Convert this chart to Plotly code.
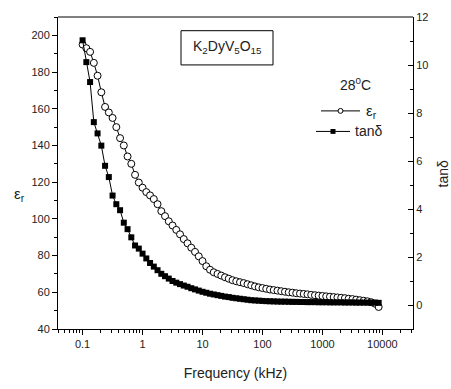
import plotly.graph_objects as go

# ---------------- data ----------------
freq_khz = [0.1, 0.1155, 0.1334, 0.1540, 0.1778, 0.2054, 0.2371, 0.2738, 0.3162, 0.3652,
            0.4217, 0.4870, 0.5623, 0.6494, 0.7499, 0.8660, 1.0, 1.155, 1.334, 1.540,
            1.778, 2.054, 2.371, 2.738, 3.162, 3.652, 4.217, 4.870, 5.623, 6.494,
            7.499, 8.660, 10.0, 11.55, 13.34, 15.40, 17.78, 20.54, 23.71, 27.38,
            31.62, 36.52, 42.17, 48.70, 56.23, 64.94, 74.99, 86.60, 100.0, 115.5,
            133.4, 154.0, 177.8, 205.4, 237.1, 273.8, 316.2, 365.2, 421.7, 487.0,
            562.3, 649.4, 749.9, 866.0, 1000.0, 1155.0, 1334.0, 1540.0, 1778.0, 2054.0,
            2371.0, 2738.0, 3162.0, 3652.0, 4217.0, 4870.0, 5623.0, 6494.0, 7499.0, 8660.0]

eps_r = [195, 193, 191, 185, 178, 169, 161, 158, 155, 150,
         144, 140, 134, 130, 124, 119.8, 117, 114.6, 112.8, 110.8,
         108, 104.2, 101.5, 98.7, 96.4, 94, 91.6, 89, 86.7, 84.3,
         82, 79.6, 77, 74.2, 72.3, 70.9, 70, 69.1, 68.2, 67.4,
         66.6, 66, 65.5, 65, 64.4, 63.8, 63.2, 62.7, 62.3, 61.9,
         61.5, 61.2, 60.9, 60.6, 60.3, 60.0, 59.8, 59.5, 59.3, 59.1,
         58.9, 58.6, 58.4, 58.2, 58.0, 57.8, 57.6, 57.4, 57.2, 57.0,
         56.8, 56.5, 56.3, 56.0, 55.7, 55.4, 55.1, 54.6, 53.8, 52.0]

tan_delta = [11.03, 10.12, 9.29, 7.62, 7.15, 6.64, 5.80, 5.33, 4.56, 4.20,
             3.95, 3.43, 3.16, 2.82, 2.48, 2.35, 2.14, 1.94, 1.75, 1.60,
             1.45, 1.30, 1.20, 1.10, 1.00, 0.93, 0.87, 0.81, 0.76, 0.70,
             0.65, 0.60, 0.55, 0.51, 0.47, 0.44, 0.41, 0.38, 0.35, 0.33,
             0.30, 0.28, 0.26, 0.24, 0.22, 0.20, 0.19, 0.18, 0.17, 0.16,
             0.155, 0.15, 0.145, 0.14, 0.14, 0.135, 0.13, 0.13, 0.125, 0.125,
             0.12, 0.12, 0.12, 0.115, 0.115, 0.115, 0.11, 0.11, 0.11, 0.11,
             0.105, 0.105, 0.105, 0.10, 0.10, 0.10, 0.10, 0.10, 0.10, 0.09]

x_tickvals = [0.1, 1, 10, 100, 1000, 10000]
x_ticktext = ["0.1", "1", "10", "100", "1000", "10000"]
y_ticks = [40, 60, 80, 100, 120, 140, 160, 180, 200]
y2_ticks = [0, 2, 4, 6, 8, 10, 12]

# ---------------- layout geometry ----------------
W, H = 451, 389
L, R, T, B = 58, 413, 11, 330
FONT = "Arial, Liberation Sans, sans-serif"


def px(x):
    return (x - L) / (R - L)


def py(y):
    return (B - y) / (B - T)


fig = go.Figure()

fig.add_trace(go.Scatter(
    x=freq_khz, y=eps_r, mode="lines+markers", name="εr",
    line=dict(color="black", width=1),
    marker=dict(symbol="circle", size=7, color="white",
                line=dict(color="black", width=1)),
    showlegend=False))

fig.add_trace(go.Scatter(
    x=freq_khz, y=tan_delta, mode="lines+markers", name="tanδ", yaxis="y2",
    line=dict(color="black", width=1),
    marker=dict(symbol="square", size=6, color="black",
                line=dict(color="black", width=0)),
    showlegend=False))

axis_common = dict(showgrid=False, zeroline=False, linecolor="black", linewidth=1,
                   tickcolor="black", tickfont=dict(family=FONT, size=11, color="#222"))

fig.update_layout(
    width=W, height=H,
    margin=dict(l=L, r=W - R, t=T, b=H - B, pad=0),
    paper_bgcolor="white", plot_bgcolor="white",
    font=dict(family=FONT, color="#222"),
    xaxis=dict(type="log", range=[-1.41, 4.51], tickvals=x_tickvals, ticktext=x_ticktext,
               ticks="outside", ticklen=5, showline=True, mirror=False,
               minor=dict(ticks="outside", ticklen=3, tickcolor="black", dtick="D1"),
               title=dict(text="Frequency (kHz)", font=dict(family=FONT, size=14, color="#222"),
                          standoff=18),
               **axis_common),
    yaxis=dict(range=[40, 210], tickvals=y_ticks, ticks="outside", ticklen=5, showline=True,
               minor=dict(ticks="outside", ticklen=3, tickcolor="black", dtick=10),
               **axis_common),
    yaxis2=dict(range=[-1, 12], tickvals=y2_ticks, overlaying="y", side="right",
                ticks="inside", ticklen=5, showline=True,
                minor=dict(ticks="inside", ticklen=3, tickcolor="black", dtick=1),
                **axis_common),
)

shapes = []
# top frame (grey)
shapes.append(dict(type="line", xref="paper", yref="paper", x0=0, x1=1, y0=1, y1=1,
                   line=dict(color="#808080", width=2)))
# compound label box
shapes.append(dict(type="rect", xref="paper", yref="paper",
                   x0=px(181), x1=px(273), y0=py(60), y1=py(25),
                   line=dict(color="black", width=1), fillcolor="rgba(0,0,0,0)"))
# legend glyphs
shapes.append(dict(type="line", xref="paper", yref="paper", x0=px(321), x1=px(360),
                   y0=py(107), y1=py(107), line=dict(color="black", width=1)))
shapes.append(dict(type="circle", xref="paper", yref="paper", x0=px(338), x1=px(343),
                   y0=py(109.5), y1=py(104.5), line=dict(color="black", width=1),
                   fillcolor="white"))
shapes.append(dict(type="line", xref="paper", yref="paper", x0=px(316), x1=px(350),
                   y0=py(128), y1=py(128), line=dict(color="black", width=1)))
shapes.append(dict(type="rect", xref="paper", yref="paper", x0=px(330.5), x1=px(335.5),
                   y0=py(130.5), y1=py(125.5), line=dict(color="black", width=0),
                   fillcolor="black"))
fig.update_layout(shapes=shapes)

ann = [
    dict(text="K<sub>2</sub>DyV<sub>5</sub>O<sub>15</sub>", x=px(227), y=py(42),
         font=dict(size=14)),
    dict(text="28<sup>0</sup>C", x=px(355), y=py(80), font=dict(size=14)),
    dict(text="ε<sub>r</sub>", x=px(364), y=py(108), xanchor="left", font=dict(size=15)),
    dict(text="tanδ", x=px(353), y=py(128), xanchor="left", font=dict(size=14)),
    dict(text="ε<sub>r</sub>", x=px(19), y=py(192), font=dict(size=15)),
    dict(text="tanδ", x=px(443), y=py(172), textangle=-90, font=dict(size=14)),
]
for a in ann:
    a.setdefault("xanchor", "center")
    a.update(xref="paper", yref="paper", showarrow=False, yanchor="middle")
    a["font"].update(family=FONT, color="#222")
fig.update_layout(annotations=ann)

fig.write_html("out.html")
